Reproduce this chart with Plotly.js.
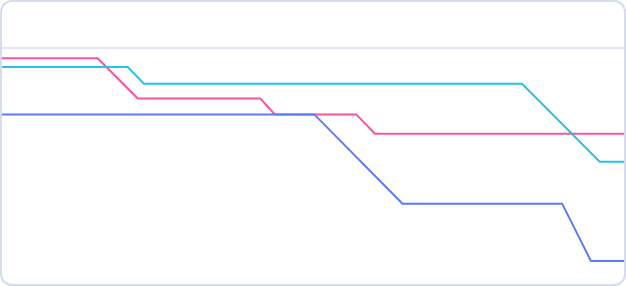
<!DOCTYPE html>
<html>
<head>
<meta charset="utf-8">
<script src="https://cdn.plot.ly/plotly-3.0.1.min.js"></script>
<style>
  html, body { margin: 0; padding: 0; background: #ffffff; }
  #wrap { position: relative; width: 626px; height: 286px; }
  #chart { position: absolute; left: 0; top: 0; width: 626px; height: 286px; }
  #frame { position: absolute; left: 0; top: 0; width: 626px; height: 286px; box-sizing: border-box;
           border: 2px solid #d6dcf0; border-radius: 12px; pointer-events: none; }
</style>
</head>
<body>
<div id="wrap">
  <div id="chart"></div>
  <div id="frame"></div>
</div>
<script>
// Data (x: position along period, 0-100; y: score)
const pinkX = [0, 15.6, 22.0, 41.6, 43.9, 56.9, 59.9, 100];
const pinkY = [95.7, 95.7, 78.8, 78.8, 72.1, 72.1, 64.0, 64.0];

const cyanX = [0, 20.4, 23.0, 83.4, 95.8, 100];
const cyanY = [92.0, 92.0, 85.0, 85.0, 52.2, 52.2];

const blueX = [0, 50.2, 64.3, 89.8, 94.4, 100];
const blueY = [72.1, 72.1, 34.6, 34.6, 10.5, 10.5];

const gridValues = [100];

const traces = [
  { x: pinkX, y: pinkY, mode: 'lines', line: { color: '#f8539f', width: 2 }, hoverinfo: 'skip' },
  { x: cyanX, y: cyanY, mode: 'lines', line: { color: '#25c3e6', width: 2 }, hoverinfo: 'skip' },
  { x: blueX, y: blueY, mode: 'lines', line: { color: '#5b7bf9', width: 2 }, hoverinfo: 'skip' }
];

const layout = {
  width: 626, height: 286,
  margin: { l: 0, r: 0, t: 0, b: 0, pad: 0 },
  paper_bgcolor: 'rgba(0,0,0,0)', plot_bgcolor: 'rgba(0,0,0,0)',
  showlegend: false,
  xaxis: { range: [0, 100], showgrid: false, zeroline: false, showticklabels: false, showline: false, ticks: '' },
  yaxis: { range: [0, 120.17], tickmode: 'array', tickvals: gridValues, showgrid: true,
           gridcolor: '#e4e7f3', gridwidth: 2, zeroline: false, showticklabels: false, showline: false, ticks: '' }
};

Plotly.newPlot('chart', traces, layout, { displayModeBar: false, staticPlot: true });
</script>
</body>
</html>
